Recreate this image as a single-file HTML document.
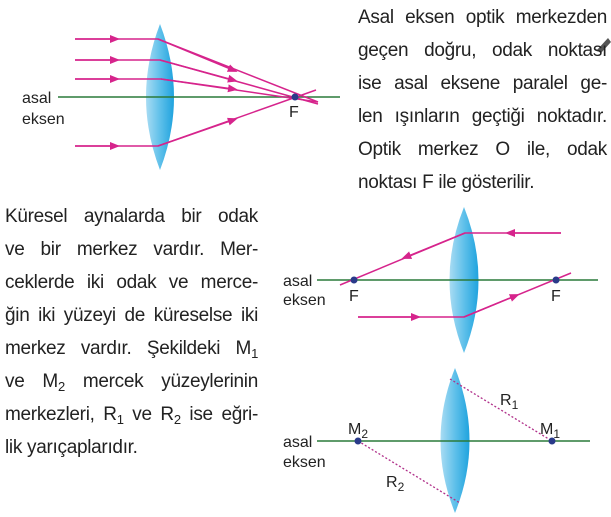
<!DOCTYPE html>
<html><head><meta charset="utf-8"><style>
body{margin:0;width:611px;height:517px;background:#fff;position:relative;overflow:hidden;font-family:"Liberation Sans",sans-serif;color:#222}
.t{position:absolute;font-size:19px;line-height:33px;letter-spacing:-0.3px}
.t div{text-align:justify;text-align-last:justify;white-space:nowrap;height:33px}
.t div.l{text-align-last:left}
sub{font-size:13px;vertical-align:-4px;line-height:0}
svg{position:absolute;left:0;top:0}
</style></head><body>
<svg width="611" height="517" viewBox="0 0 611 517">
<defs>
<linearGradient id="g" x1="0" x2="1" y1="0" y2="0">
<stop offset="0" stop-color="#a9dcf3"/><stop offset="0.5" stop-color="#5fc0ea"/><stop offset="1" stop-color="#1fa3de"/>
</linearGradient>
<marker id="a" markerWidth="10" markerHeight="8" refX="5" refY="4" orient="auto" markerUnits="userSpaceOnUse"><path d="M0,0 L10,4 L0,8 Z" fill="#d6248c"/></marker>
</defs>
<g font-family="Liberation Sans,sans-serif" font-size="16" fill="#222">
<path d="M160,24 Q188,97 160,170 Q132,97 160,24Z" fill="url(#g)"/>
<line x1="58" y1="97" x2="340" y2="97" stroke="#2a7a3a" stroke-width="1.5"/>
<g stroke="#d6248c" stroke-width="1.5" fill="none">
<path d="M75,39 H158 L318,102"/><path d="M75,60 H160 L318,104"/><path d="M75,79 H161 L318,102"/><path d="M75,146 H158 L316,90"/>
<path d="M75,39 H115" marker-end="url(#a)"/><path d="M75,60 H115" marker-end="url(#a)"/><path d="M75,79 H115" marker-end="url(#a)"/><path d="M75,146 H115" marker-end="url(#a)"/>
<path d="M158,39 L233,70" marker-end="url(#a)"/><path d="M160,60 L233,80" marker-end="url(#a)"/><path d="M161,79 L233,89" marker-end="url(#a)"/><path d="M158,146 L233,120" marker-end="url(#a)"/>
</g>
<circle cx="295" cy="97" r="3.5" fill="#2a3a8a"/>
<text x="289" y="117">F</text>
<text x="22" y="103">asal</text><text x="22" y="124">eksen</text>
<path d="M464,207 Q493,280 464,353 Q435,280 464,207Z" fill="url(#g)"/>
<line x1="317" y1="280" x2="598" y2="280" stroke="#2a7a3a" stroke-width="1.5"/>
<g stroke="#d6248c" stroke-width="1.5" fill="none">
<path d="M561,233 H465 L340,285"/><path d="M561,233 H510" marker-end="url(#a)"/><path d="M465,233 L406,257" marker-end="url(#a)"/>
<path d="M358,317 H464 L571,273"/><path d="M358,317 H416" marker-end="url(#a)"/><path d="M464,317 L515,296" marker-end="url(#a)"/>
</g>
<circle cx="354" cy="280" r="3.5" fill="#2a3a8a"/><circle cx="556" cy="280" r="3.5" fill="#2a3a8a"/>
<text x="349" y="301">F</text><text x="551" y="301">F</text>
<text x="283" y="286">asal</text><text x="283" y="305">eksen</text>
<path d="M455,368 Q484,441 455,513 Q426,441 455,368Z" fill="url(#g)"/>
<line x1="317" y1="441" x2="590" y2="441" stroke="#2a7a3a" stroke-width="1.5"/>
<g stroke="#b0308a" stroke-width="1.3" stroke-dasharray="2,2"><line x1="450" y1="379" x2="552" y2="441"/><line x1="358" y1="441" x2="460" y2="503"/></g>
<circle cx="358" cy="441" r="3.5" fill="#2a3a8a"/><circle cx="552" cy="441" r="3.5" fill="#2a3a8a"/>
<text x="348" y="434">M<tspan font-size="12" dy="4">2</tspan></text>
<text x="540" y="434">M<tspan font-size="12" dy="4">1</tspan></text>
<text x="500" y="405">R<tspan font-size="12" dy="4">1</tspan></text>
<text x="386" y="487">R<tspan font-size="12" dy="4">2</tspan></text>
<text x="283" y="447">asal</text><text x="283" y="467">eksen</text>
</g>
<path d="M597,50 L608,38 L611,42 L601,53Z" fill="#555"/>
</svg>
<div class="t" style="left:358px;top:1px;width:249px">
<div>Asal eksen optik merkezden</div>
<div>geçen doğru, odak noktası</div>
<div>ise asal eksene paralel ge-</div>
<div>len ışınların geçtiği noktadır.</div>
<div>Optik merkez O ile, odak</div>
<div class="l">noktası F ile gösterilir.</div>
</div>
<div class="t" style="left:5px;top:200px;width:253px">
<div>Küresel aynalarda bir odak</div>
<div>ve bir merkez vardır. Mer-</div>
<div>ceklerde iki odak ve merce-</div>
<div>ğin iki yüzeyi de küreselse iki</div>
<div>merkez vardır. Şekildeki M<sub>1</sub></div>
<div>ve M<sub>2</sub> mercek yüzeylerinin</div>
<div>merkezleri, R<sub>1</sub> ve R<sub>2</sub> ise eğri-</div>
<div class="l">lik yarıçaplarıdır.</div>
</div>
</body></html>
